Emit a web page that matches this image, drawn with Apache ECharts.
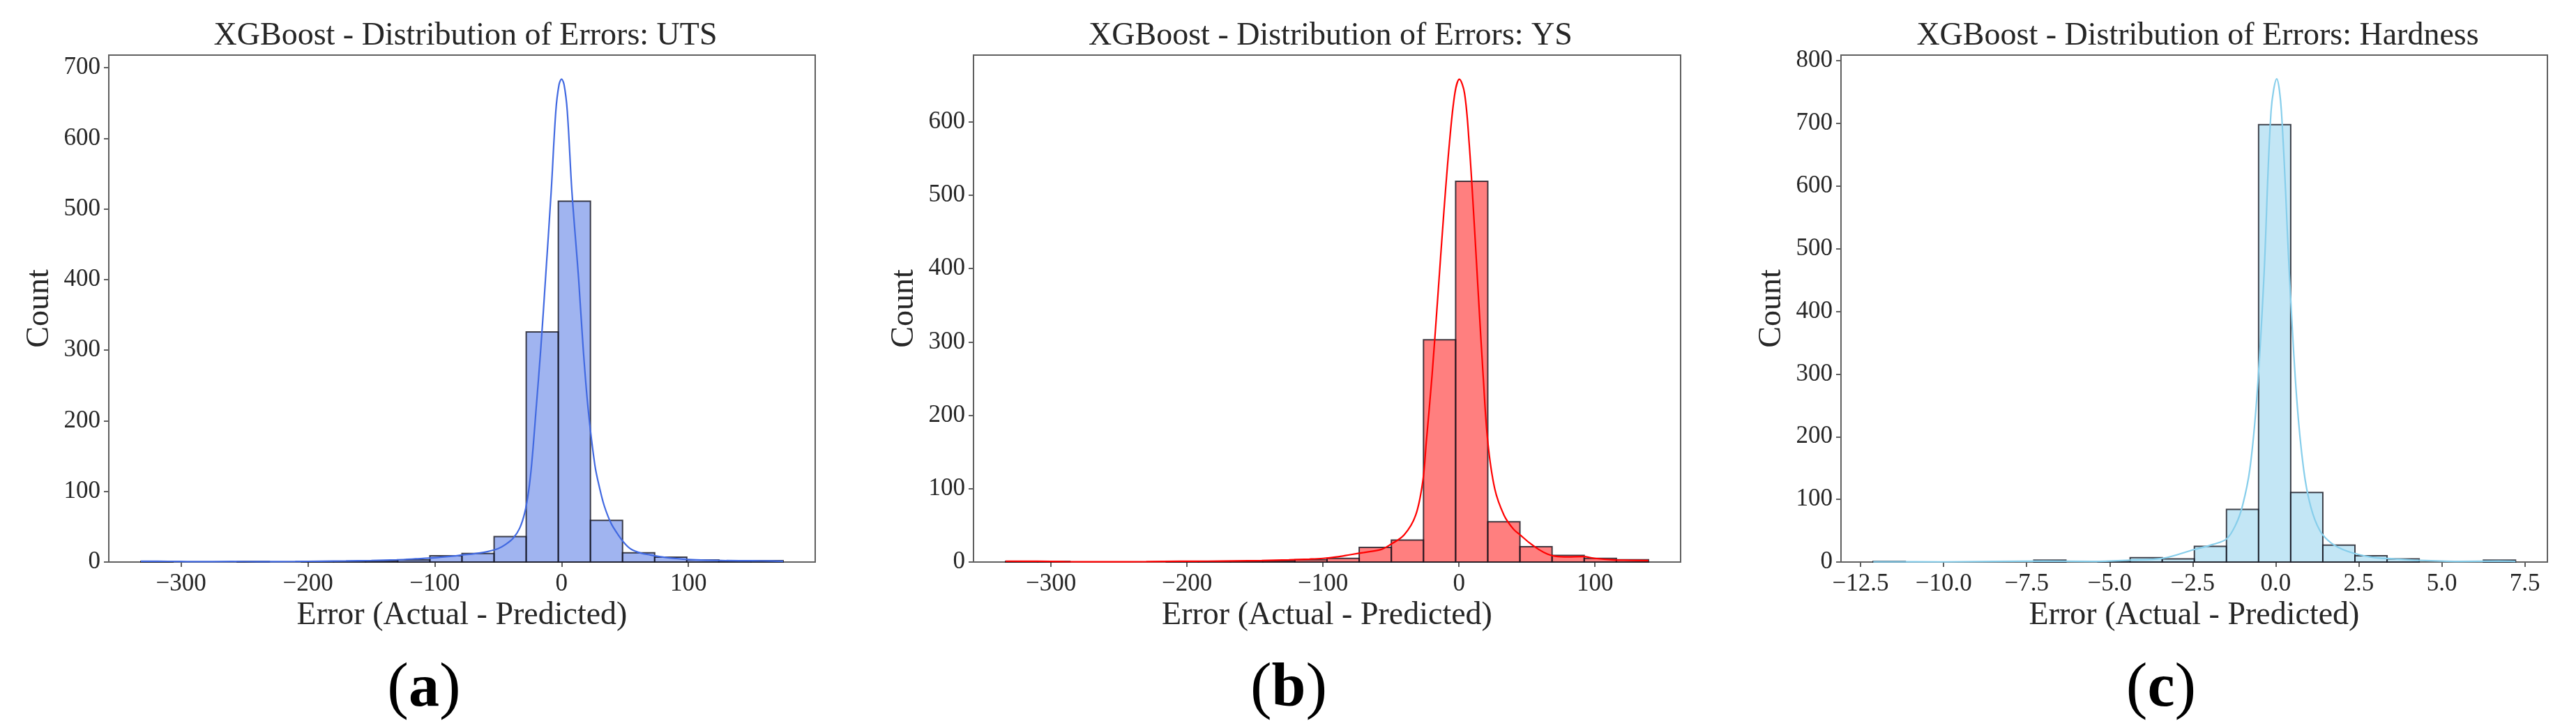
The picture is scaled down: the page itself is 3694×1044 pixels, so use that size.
<!DOCTYPE html>
<html>
<head>
<meta charset="utf-8">
<script src="https://cdn.jsdelivr.net/npm/echarts@6/dist/echarts.min.js"></script>
<style>
  html, body { margin: 0; padding: 0; background: #fff; }
  #chart { width: 3694px; height: 1044px; }
</style>
</head>
<body>
<div id="chart"></div>
<script>
// ---- data ----
const titles = [
  "XGBoost - Distribution of Errors: UTS",
  "XGBoost - Distribution of Errors: YS",
  "XGBoost - Distribution of Errors: Hardness",
];
const panelLabels = ["a", "b", "c"];

// histogram bins: first edge, bin width, counts
const binStartA = -331.7, binWidthA = 25.32;
const countsA = [1, 0, 0, 1, 0, 1, 1, 2, 3, 9, 12, 36, 326, 511, 59, 13, 7, 3, 2, 2];
const binStartB = -333.4, binWidthB = 23.64;
const countsB = [1, 1, 0, 0, 0, 1, 1, 1, 2, 3, 5, 20, 30, 303, 519, 55, 21, 9, 5, 3];
const binStartC = -12.12, binWidthC = 0.967;
const countsC = [1, 0, 0, 0, 0, 3, 0, 1, 7, 5, 25, 84, 698, 111, 27, 10, 5, 0, 0, 3];

// kde curves [error, count]
const kdeA = [
  [-331.7, 1.2], [-310, 1.0], [-290, 0.6], [-260, 0.8], [-240, 0.7], [-210, 0.8],
  [-190, 1.2], [-170, 1.6], [-150, 2.2], [-130, 3.2], [-115, 4.5], [-100, 6],
  [-88, 8], [-78, 10], [-68, 12], [-58, 15], [-50, 19], [-44, 25], [-38, 34],
  [-33, 48], [-29, 70], [-26, 100], [-23.5, 140], [-20, 218], [-16.3, 304],
  [-12.7, 400], [-8.2, 524], [-4.5, 639], [-2, 676], [0, 684], [2, 676],
  [4.5, 639], [8.2, 524], [13.5, 400], [17, 304], [20.9, 218], [26.3, 137],
  [30, 105], [33.6, 80], [39, 55], [44.5, 39], [50, 26], [55, 18], [62, 13],
  [70, 10], [80, 7], [90, 5], [100, 3.5], [115, 2.5], [130, 2], [150, 1.8],
  [165, 1.6], [174.7, 1.2],
];
const kdeB = [
  [-333.4, 1.2], [-310, 1.0], [-290, 0.5], [-260, 0.3], [-230, 0.5], [-205, 1.0],
  [-185, 1.2], [-165, 1.5], [-145, 2], [-125, 3], [-110, 4], [-100, 5], [-90, 7],
  [-80, 10], [-70, 13], [-57.4, 17], [-50.6, 23.5], [-40.3, 37], [-31.8, 64],
  [-26.6, 110], [-24, 164], [-19.8, 254], [-15.5, 363], [-11.3, 472], [-7, 571],
  [-3, 639], [0.3, 658], [4.1, 639], [7.5, 571], [10.9, 472], [14.3, 363],
  [17.8, 254], [21.2, 164], [26.3, 100], [33.1, 64], [40, 45], [45, 37],
  [52, 26], [58.8, 17], [65, 11], [70.7, 8], [80, 7], [91, 7.5], [100, 5],
  [113, 3], [125, 2.5], [139.3, 2],
];
const kdeC = [
  [-12.12, 0.5], [-10, 0.3], [-7, 1.5], [-5.5, 1], [-4.4, 3], [-3.4, 6],
  [-2.45, 20], [-1.9, 28], [-1.48, 37], [-1.2, 60], [-1.0, 90], [-0.78, 148],
  [-0.57, 262], [-0.36, 450], [-0.14, 720], [0.03, 771], [0.17, 720],
  [0.42, 450], [0.63, 262], [0.84, 148], [1.05, 89], [1.33, 50], [1.68, 30],
  [2.17, 17], [2.87, 8], [3.57, 5], [4.27, 2.7], [5.5, 1], [6.7, 1.5], [7.22, 1],
];

// axes
const xRangeA = [-357, 200], yMaxA = 718;
const xRangeB = [-357, 163], yMaxB = 691;
const xRangeC = [-13.09, 8.18], yMaxC = 809;
const xTicksA = [-300, -200, -100, 0, 100];
const xTicksB = [-300, -200, -100, 0, 100];
const xTicksC = [-12.5, -10, -7.5, -5, -2.5, 0, 2.5, 5, 7.5];
const yTicksA = [0, 100, 200, 300, 400, 500, 600, 700];
const yTicksB = [0, 100, 200, 300, 400, 500, 600];
const yTicksC = [0, 100, 200, 300, 400, 500, 600, 700, 800];

const fills = ["rgba(65,105,225,0.5)", "rgba(255,0,0,0.5)", "rgba(135,206,235,0.5)"];
const lineColors = ["#4169E1", "#FF0000", "#87CEEB"];

// ---- chart ----
const chart = echarts.init(document.getElementById("chart"));

const FONT = "Liberation Serif";
const TEXT = "#262626";
const FRAME = "#5f5f5f";

const gridLefts = [156, 1396, 2640];
const gridWidths = [1013, 1014, 1013];
const gridTop = 79, gridHeight = 727;
const labelCenters = [608, 1848, 3099];

function toBins(start, width, counts) {
  return counts.map((c, i) => [start + i * width, start + (i + 1) * width, c]);
}
const bins = [
  toBins(binStartA, binWidthA, countsA),
  toBins(binStartB, binWidthB, countsB),
  toBins(binStartC, binWidthC, countsC),
];
const kdes = [kdeA, kdeB, kdeC];
const xRanges = [xRangeA, xRangeB, xRangeC];
const yMaxes = [yMaxA, yMaxB, yMaxC];
const xTicks = [xTicksA, xTicksB, xTicksC];
const yTicks = [yTicksA, yTicksB, yTicksC];

function minus(s) {
  return String(s).replace("-", "\u2212");
}

const grid = [], xAxis = [], yAxis = [], series = [], title = [], graphic = [];

for (let i = 0; i < 3; i++) {
  grid.push({
    left: gridLefts[i], top: gridTop, width: gridWidths[i], height: gridHeight,
    show: true, borderColor: FRAME, borderWidth: 2, backgroundColor: "transparent",
  });
  title.push({
    text: titles[i],
    left: gridLefts[i] + gridWidths[i] / 2,
    textAlign: "center",
    top: 24,
    textStyle: { fontFamily: FONT, fontSize: 46, fontWeight: "normal", color: TEXT },
  });
  xAxis.push({
    type: "value", gridIndex: i, min: xRanges[i][0], max: xRanges[i][1],
    name: "Error (Actual - Predicted)", nameLocation: "middle", nameGap: 50,
    nameTextStyle: { fontFamily: FONT, fontSize: 46, color: TEXT },
    axisLine: { show: true, onZero: false, lineStyle: { color: FRAME, width: 2 } },
    axisTick: { show: true, length: 7, lineStyle: { color: FRAME, width: 2 }, customValues: xTicks[i] },
    axisLabel: {
      fontFamily: FONT, fontSize: 35, color: TEXT, margin: 14,
      customValues: xTicks[i],
      formatter: (v) => minus(i === 2 ? v.toFixed(1) : v),
    },
    splitLine: { show: false },
  });
  yAxis.push({
    type: "value", gridIndex: i, min: 0, max: yMaxes[i],
    name: "Count", nameLocation: "middle", nameGap: 76,
    nameTextStyle: { fontFamily: FONT, fontSize: 46, color: TEXT },
    axisLine: { show: true, onZero: false, lineStyle: { color: FRAME, width: 2 } },
    axisTick: { show: true, length: 7, lineStyle: { color: FRAME, width: 2 }, customValues: yTicks[i] },
    axisLabel: { fontFamily: FONT, fontSize: 35, color: TEXT, margin: 12, customValues: yTicks[i] },
    splitLine: { show: false },
  });
  const fill = fills[i];
  series.push({
    type: "custom", xAxisIndex: i, yAxisIndex: i,
    data: bins[i],
    encode: { x: [0, 1], y: 2 },
    renderItem: (params, api) => {
      const c = api.value(2);
      if (!c) return null;
      const p0 = api.coord([api.value(0), c]);
      const p1 = api.coord([api.value(1), 0]);
      return {
        type: "rect",
        shape: { x: p0[0], y: p0[1], width: p1[0] - p0[0], height: p1[1] - p0[1] },
        style: { fill: fill, stroke: "rgba(20,20,30,0.8)", lineWidth: 2 },
      };
    },
    z: 2,
  });
  series.push({
    type: "line", xAxisIndex: i, yAxisIndex: i,
    data: kdes[i], smooth: 0.35, showSymbol: false, symbol: "none",
    lineStyle: { color: lineColors[i], width: 2.2 },
    z: 3,
  });
  graphic.push({
    type: "text",
    x: labelCenters[i], y: 989,
    style: {
      text: "{p|(}{l|" + panelLabels[i] + "}{p|)}",
      align: "center", verticalAlign: "middle",
      rich: {
        p: { fontFamily: FONT, fontSize: 92, fontWeight: "normal", fill: "#000" },
        l: { fontFamily: FONT, fontSize: 88, fontWeight: "bold", fill: "#000" },
      },
    },
  });
}

chart.setOption({
  animation: false,
  backgroundColor: "#fff",
  title, grid, xAxis, yAxis, series, graphic,
});
</script>
</body>
</html>
